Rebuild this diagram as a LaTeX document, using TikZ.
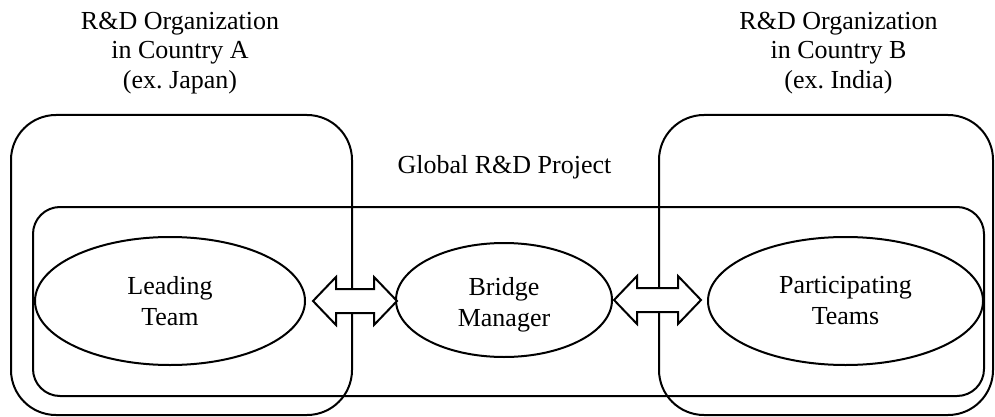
\documentclass[tikz,border=0pt]{standalone}
\usepackage{fontspec}
\setmainfont{Liberation Serif}
\usetikzlibrary{shapes.geometric,calc}
\begin{document}
\frenchspacing
\begin{tikzpicture}[x=1pt,y=-1pt,
  box/.style={draw,line width=2pt,inner sep=0pt,rounded corners=#1},
  ell/.style={draw,ellipse,line width=2pt,inner sep=0pt,align=center,font=\fontsize{26}{31}\selectfont},
  lbl/.style={align=center,inner sep=0pt,font=\fontsize{26}{31}\selectfont},
  toplbl/.style={align=center,inner sep=0pt,font=\fontsize{26}{29.5}\selectfont},
  dblarrow/.style={draw,fill=white,line width=2pt,line join=miter}]
\useasboundingbox (0,0) rectangle (995,417);
% containers
\node[box=45pt,minimum width=341pt,minimum height=300pt] (ctyA) at (181.5,265) {};
\node[box=45pt,minimum width=334pt,minimum height=300pt] (ctyB) at (826,265) {};
\node[box=27pt,minimum width=951pt,minimum height=189pt] (proj) at (508.5,301.5) {};
% teams
\node[ell,minimum width=270pt,minimum height=128pt] (lead) at (170,301) {Leading\\Team};
\node[ell,minimum width=216pt,minimum height=114pt] (bridge) at (504,300) {};
\node[lbl] (bridgetxt) at (504,305) {Bridge\\Manager};
\node[ell,minimum width=275pt,minimum height=128pt] (part) at (845.5,301) {Participating\\Teams};
% double arrows
\path[dblarrow] let \p1=($(lead.east)+(7,0)$), \p2=($(bridge.west)+(2,0)$) in
  (\x1,\y1) -- ++(23pt,24pt) -- ++(0pt,-12pt) -- (\x2-23pt,\y1+12pt) -- ++(0pt,12pt)
  -- (\x2,\y1) -- ++(-23pt,-24pt) -- ++(0pt,12pt) -- (\x1+23pt,\y1-12pt) -- ++(0pt,-12pt) -- cycle;
\path[dblarrow] let \p1=($(bridge.east)+(1,0)$), \p2=($(part.west)+(-6,0)$) in
  (\x1,\y1) -- ++(23pt,24pt) -- ++(0pt,-12pt) -- (\x2-23pt,\y1+12pt) -- ++(0pt,12pt)
  -- (\x2,\y1) -- ++(-23pt,-24pt) -- ++(0pt,12pt) -- (\x1+23pt,\y1-12pt) -- ++(0pt,-12pt) -- cycle;
% labels
\node[toplbl,anchor=north] (labA) at (180,12) {R\&D Organization\\in Country A\\(ex. Japan)};
\node[toplbl,anchor=north] (labB) at (838.5,12) {R\&D Organization\\in Country B\\(ex. India)};
\node[lbl,anchor=base] (labP) at (504.5,173) {Global R\&D Project};
\end{tikzpicture}
\end{document}
